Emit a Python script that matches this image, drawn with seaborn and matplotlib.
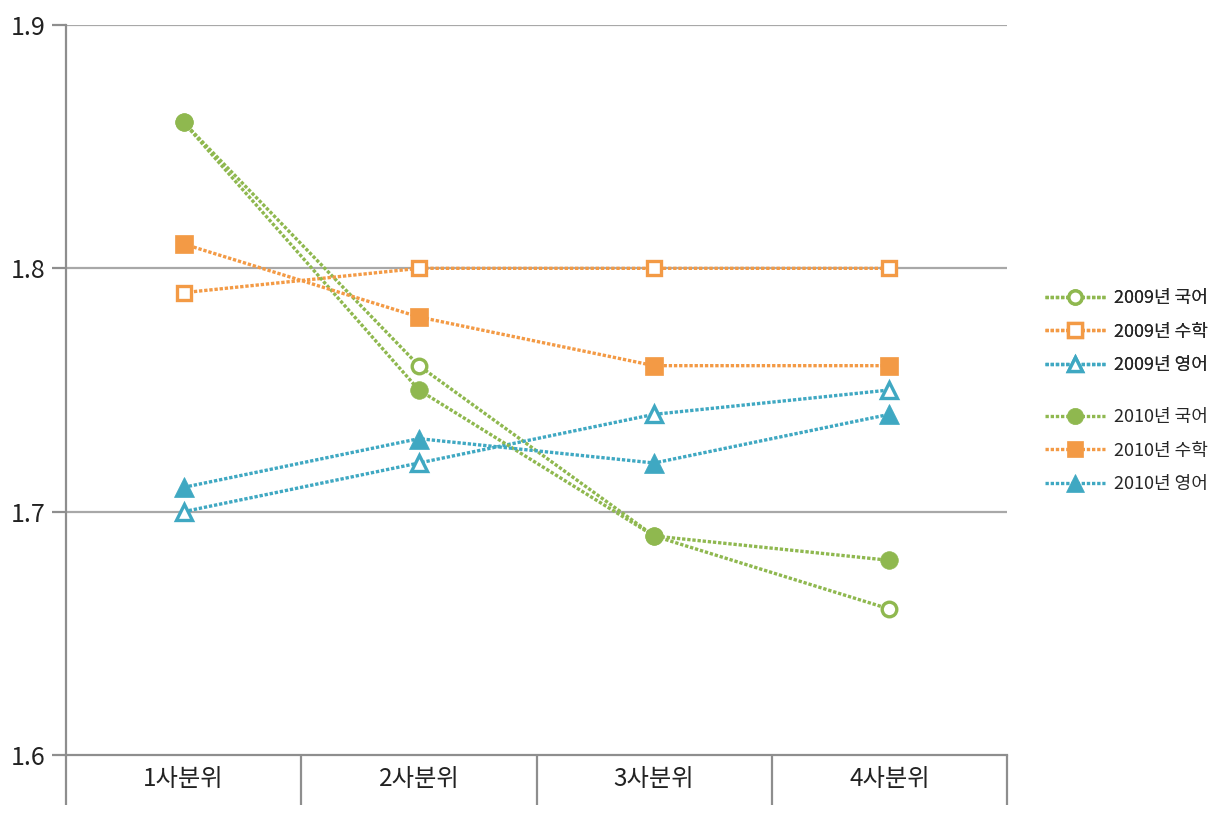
import matplotlib
matplotlib.use("Agg")
import matplotlib.pyplot as plt
import seaborn as sns
import pandas as pd
from matplotlib.lines import Line2D

categories = ["1사분위", "2사분위", "3사분위", "4사분위"]
kor_2009 = [1.86, 1.76, 1.69, 1.66]
math_2009 = [1.79, 1.80, 1.80, 1.80]
eng_2009 = [1.70, 1.72, 1.74, 1.75]
kor_2010 = [1.86, 1.75, 1.69, 1.68]
math_2010 = [1.81, 1.78, 1.76, 1.76]
eng_2010 = [1.71, 1.73, 1.72, 1.74]
y_ticks = [1.6, 1.7, 1.8, 1.9]

GREEN = "#8fb84f"
ORANGE = "#f39a45"
TEAL = "#3fa8c2"
GRID = "#a8a8a8"
SPINE = "#8e8e8e"

sns.set_theme(style="white")
plt.rcParams['font.family'] = ['Noto Sans CJK KR', 'DejaVu Sans']

fig = plt.figure(figsize=(12.19, 8.17), dpi=100)
ax = fig.add_axes([66/1219, 1 - 755/817, (1007-66)/1219, (755-25)/817])

series = [
    ("2009년 국어", kor_2009, GREEN, "o", "white"),
    ("2009년 수학", math_2009, ORANGE, "s", "white"),
    ("2009년 영어", eng_2009, TEAL, "^", "white"),
    ("2010년 국어", kor_2010, GREEN, "o", None),
    ("2010년 수학", math_2010, ORANGE, "s", None),
    ("2010년 영어", eng_2010, TEAL, "^", None),
]

dash = (0, (1.0, 0.55))
handles = []
for name, vals, color, mk, face in series:
    df = pd.DataFrame({"x": list(range(len(categories))), "y": vals})
    fc = face if face is not None else color
    base = 10.5 if mk != "^" else 11.5
    ms = base if face else base + 2.2
    mew = 2.4 if face else 0.5
    sns.lineplot(data=df, x="x", y="y", ax=ax, color=color, linewidth=2.4,
                 linestyle=dash, marker=mk, markersize=ms,
                 markerfacecolor=fc, markeredgecolor=color,
                 markeredgewidth=mew,
                 sort=False, dash_capstyle="butt", zorder=3, clip_on=False)
    handles.append(Line2D([], [], color=color, linewidth=2.4, linestyle=dash,
                          marker=mk, markersize=ms - 1, markerfacecolor=fc,
                          markeredgecolor=color, markeredgewidth=mew,
                          dash_capstyle="butt", label=name))

ax.set_xlim(-0.5, len(categories) - 0.5)
ax.set_ylim(1.6, 1.9)
ax.set_yticks(y_ticks)
ax.set_yticklabels([f"{v:.1f}" for v in y_ticks], fontsize=18, color="#222222")
ax.set_xticks(range(len(categories)))
ax.set_xticklabels(categories, fontsize=17.5, color="#222222")
ax.set_xticks([i - 0.5 for i in range(len(categories) + 1)], minor=True)
ax.tick_params(axis="x", which="major", length=0, pad=8)
ax.tick_params(axis="x", which="minor", length=36, width=1.6, color=SPINE,
               direction="out", bottom=True)
ax.tick_params(axis="y", which="major", length=10, width=1.6, color=SPINE,
               direction="out", left=True, pad=5)
ax.set_xlabel("")
ax.set_ylabel("")

for v in y_ticks[1:]:
    ax.axhline(v, color=GRID, linewidth=1.6, zorder=1)

for s in ["right", "top"]:
    ax.spines[s].set_visible(False)
ax.spines["left"].set_color(SPINE)
ax.spines["left"].set_linewidth(1.6)
ax.spines["bottom"].set_color(SPINE)
ax.spines["bottom"].set_linewidth(1.6)

leg1 = fig.legend(handles=handles[:3], loc="upper left",
                  bbox_to_anchor=(1038/1219, 1 - 282/817), frameon=False,
                  fontsize=13, handlelength=3.3, labelspacing=0.85,
                  handletextpad=0.5, borderaxespad=0)
fig.add_artist(leg1)
leg2 = fig.legend(handles=handles[3:], loc="upper left",
                  bbox_to_anchor=(1038/1219, 1 - 401/817), frameon=False,
                  fontsize=13, handlelength=3.3, labelspacing=0.85,
                  handletextpad=0.5, borderaxespad=0)

fig.savefig("out.png", dpi=100)
